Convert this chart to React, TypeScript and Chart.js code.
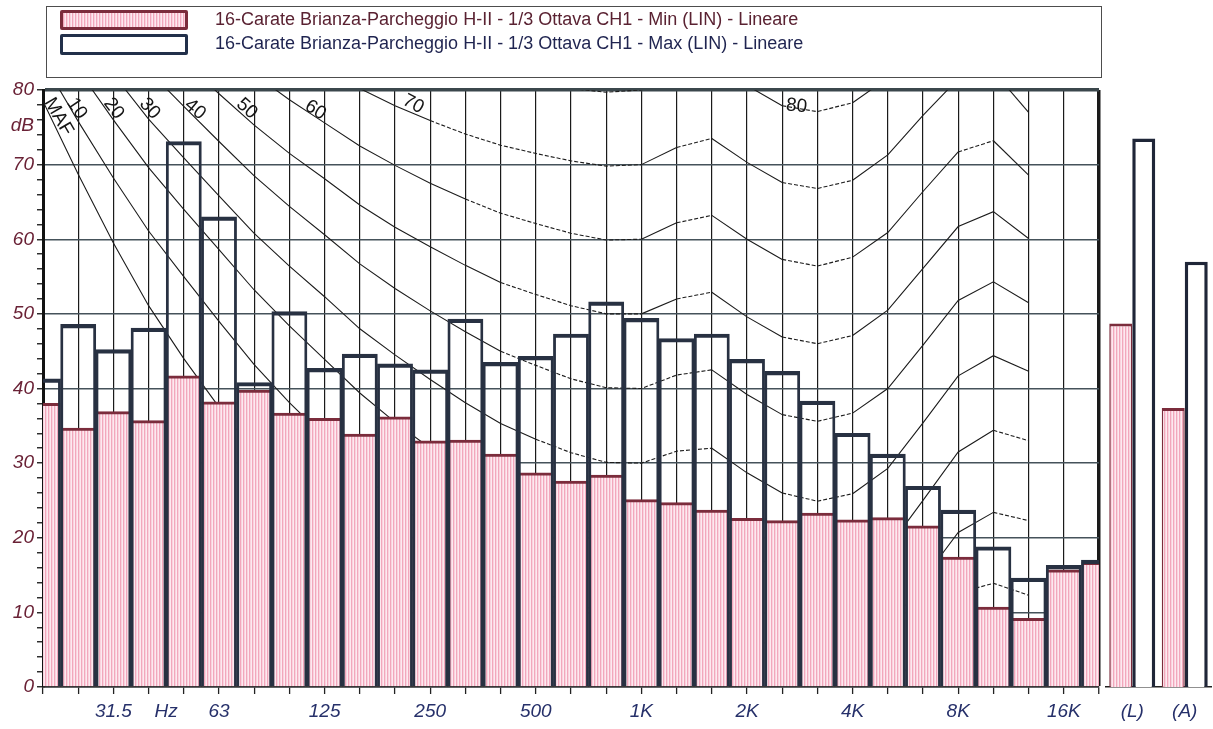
import React, { useEffect, useRef } from 'react';
import { Chart, registerables } from 'chart.js';

Chart.register(...registerables);

// ---- Data -------------------------------------------------------------
const bands = ['20', '25', '31.5', '40', '50', '63', '80', '100', '125', '160', '200', '250', '315', '400', '500', '630', '800', '1K', '1.25K', '1.6K', '2K', '2.5K', '3.15K', '4K', '5K', '6.3K', '8K', '10K', '12.5K', '16K', '20K'];
const bandTickLabels = ['', '', '31.5', '', '', '63', '', '', '125', '', '', '250', '', '', '500', '', '', '1K', '', '', '2K', '', '', '4K', '', '', '8K', '', '', '16K', ''];

const minLevels = [38.0, 34.7, 36.9, 35.7, 41.7, 38.2, 39.8, 36.7, 36.0, 33.9, 36.2, 33.0, 33.1, 31.2, 28.7, 27.6, 28.4, 25.1, 24.7, 23.7, 22.6, 22.3, 23.3, 22.4, 22.7, 21.6, 17.4, 10.7, 9.2, 15.7, 16.7];
const maxLevels = [41.3, 48.6, 45.2, 48.1, 73.1, 63.0, 40.8, 50.3, 42.7, 44.6, 43.3, 42.5, 49.3, 43.5, 44.3, 47.3, 51.6, 49.4, 46.7, 47.3, 43.9, 42.3, 38.3, 34.0, 31.2, 26.9, 23.7, 18.8, 14.6, 16.3, 17.0];

const summaryLabels = ['(L)', '(A)'];
const summaryMin = [48.7, 37.4];
const summaryMax = [73.5, 57.0];

// Equal-loudness contours (dB per band, none above 12.5K)
const mafLevels = [78.5, 68.7, 59.5, 51.1, 44.0, 37.5, 31.5, 26.5, 22.1, 17.9, 14.4, 11.4, 8.6, 6.2, 4.4, 3.0, 2.2, 2.4, 3.5, 1.7, -1.3, -4.2, -6.0, -5.4, -1.5, 6.0, 12.6, 13.9, 12.3, null, null];
const phon10Levels = [83.8, 75.8, 68.2, 61.1, 55.0, 49.0, 43.2, 38.1, 33.5, 28.8, 24.8, 21.3, 18.1, 15.1, 13.0, 11.2, 10.0, 10.0, 11.3, 10.4, 7.3, 4.5, 3.0, 3.8, 7.5, 14.4, 20.7, 23.4, 22.3, null, null];
const phon20Levels = [89.6, 82.7, 76.0, 69.6, 64.0, 58.6, 53.2, 48.4, 43.9, 39.4, 35.5, 32.0, 28.7, 25.7, 23.4, 21.5, 20.1, 20.0, 21.5, 21.4, 18.2, 15.4, 14.3, 15.1, 18.6, 25.0, 31.5, 34.4, 33.0, null, null];
const phon30Levels = [94.7, 88.3, 82.1, 76.1, 70.9, 65.8, 60.8, 56.4, 52.3, 48.0, 44.5, 41.2, 38.1, 35.3, 33.2, 31.4, 30.1, 30.0, 31.6, 32.0, 28.7, 26.0, 24.9, 25.9, 29.3, 35.4, 41.7, 44.4, 42.3, null, null];
const phon40Levels = [99.9, 93.9, 88.2, 82.6, 77.8, 73.1, 68.5, 64.4, 60.6, 56.7, 53.4, 50.4, 47.6, 45.0, 43.1, 41.3, 40.1, 40.0, 41.8, 42.5, 39.2, 36.5, 35.6, 36.7, 40.0, 45.8, 51.8, 54.3, 51.5, null, null];
const phon50Levels = [104.7, 99.1, 93.6, 88.4, 83.9, 79.5, 75.3, 71.5, 68.1, 64.6, 61.6, 59.0, 56.5, 54.2, 52.6, 51.1, 50.0, 50.0, 52.0, 52.9, 49.6, 46.9, 46.0, 47.1, 50.5, 56.1, 61.7, 63.7, 60.1, null, null];
const phon60Levels = [109.5, 104.2, 99.1, 94.2, 90.0, 85.9, 82.1, 78.7, 75.6, 72.5, 69.9, 67.5, 65.4, 63.5, 62.1, 60.8, 59.9, 60.0, 62.2, 63.2, 60.0, 57.3, 56.4, 57.6, 60.9, 66.4, 71.7, 73.2, 68.6, null, null];
const phon70Levels = [114.3, 109.2, 104.4, 99.8, 95.8, 92.2, 88.6, 85.6, 82.8, 80.2, 77.9, 75.9, 74.1, 72.6, 71.5, 70.5, 69.8, 70.0, 72.3, 73.5, 70.3, 67.6, 66.8, 67.9, 71.3, 76.6, 81.5, 82.5, 77.0, null, null];
const phon80Levels = [119.0, 114.2, 109.7, 105.3, 101.7, 98.4, 95.2, 92.5, 90.1, 87.8, 85.9, 84.3, 82.9, 81.7, 80.9, 80.2, 79.7, 80.0, 82.5, 83.7, 80.6, 77.9, 77.1, 78.3, 81.6, 86.8, 91.4, 91.7, 85.4, null, null];

const contourNames = ['MAF', '10', '20', '30', '40', '50', '60', '70', '80'];
const contourSeries = [mafLevels, phon10Levels, phon20Levels, phon30Levels, phon40Levels, phon50Levels, phon60Levels, phon70Levels, phon80Levels];

const legendMinText = '16-Carate Brianza-Parcheggio H-II - 1/3 Ottava CH1 - Min (LIN) - Lineare';
const legendMaxText = '16-Carate Brianza-Parcheggio H-II - 1/3 Ottava CH1 - Max (LIN) - Lineare';

// ---- Annotation placement (data units) -------------------------------
const contourLabelAnchors = [
  { band: 0.44, db: 76.4, angle: 60 },
  { band: 0.96, db: 77.5, angle: 56 },
  { band: 2.01, db: 77.5, angle: 53 },
  { band: 3.03, db: 77.5, angle: 48 },
  { band: 4.32, db: 77.4, angle: 40 },
  { band: 5.79, db: 77.5, angle: 42 },
  { band: 7.74, db: 77.3, angle: 33 },
  { band: 10.52, db: 78.1, angle: 28 },
  { band: 21.41, db: 77.85, angle: 6 },
];

// ---- Styles ----------------------------------------------------------
const FONT = '"Liberation Sans", Arial, Helvetica, sans-serif';
const PINK_TOP = '#7b2c3c';
const MAX_EDGE = '#283142';
const XLABEL = '#26306a';
const YLABEL = '#6a2236';

function makeStripePattern(): any {
  const c = document.createElement('canvas');
  c.width = 3;
  c.height = 4;
  const g = c.getContext('2d')!;
  g.fillStyle = '#fde9f0';
  g.fillRect(0, 0, 3, 4);
  g.fillStyle = '#f2a7bc';
  g.fillRect(0, 0, 1, 4);
  g.fillStyle = '#f9d3de';
  g.fillRect(1, 0, 1, 4);
  return g.createPattern(c, 'repeat');
}

export default function App() {
  const mainRef = useRef<HTMLCanvasElement>(null);
  const sideRef = useRef<HTMLCanvasElement>(null);

  useEffect(() => {
    const stripe = makeStripePattern();

    const contourSets = contourSeries.map((values, i) => ({
      type: 'line',
      label: contourNames[i],
      data: values,
      borderColor: '#1c1c1c',
      borderWidth: 1.1,
      pointRadius: 0,
      fill: false,
      tension: 0,
      order: 2 + i,
      segment: {
        borderDash: (ctx: any) =>
          Math.abs(ctx.p1.parsed.y - ctx.p0.parsed.y) < 2 ? [4, 2] : undefined,
      },
    }));

    const overlay = {
      id: 'overlay',
      afterDatasetsDraw(chart: any) {
        const { ctx, scales } = chart;
        const x = scales.x;
        const y = scales.y;
        ctx.save();
        ctx.font = `19px ${FONT}`;
        ctx.fillStyle = '#151515';
        ctx.textAlign = 'center';
        ctx.textBaseline = 'middle';
        contourLabelAnchors.forEach((a, i) => {
          const px = x.getPixelForValue(a.band);
          const py = y.getPixelForValue(a.db);
          ctx.save();
          ctx.translate(px, py);
          ctx.rotate((a.angle * Math.PI) / 180);
          ctx.fillText(contourNames[i], 0, 0);
          ctx.restore();
        });
        ctx.restore();
      },
      afterDraw(chart: any) {
        const { ctx, scales, chartArea } = chart;
        const x = scales.x;
        const y = scales.y;
        ctx.save();
        ctx.font = `italic 19px ${FONT}`;
        ctx.textBaseline = 'middle';
        ctx.fillStyle = YLABEL;
        ctx.textAlign = 'right';
        ctx.fillText('dB', chartArea.left - 9, y.getPixelForValue(75.2));
        ctx.fillStyle = XLABEL;
        ctx.textAlign = 'center';
        ctx.fillText('Hz', x.getPixelForValue(3.5), x.top + 7 + 6 + 11.4);
        ctx.restore();
      },
    };

    const tickFont = { family: FONT, size: 19, style: 'italic' as const };

    const main = new Chart(mainRef.current as HTMLCanvasElement, {
      type: 'bar',
      data: {
        labels: bands,
        datasets: [
          {
            type: 'bar',
            label: 'Max',
            data: maxLevels,
            backgroundColor: 'rgba(0,0,0,0)',
            borderColor: MAX_EDGE,
            borderWidth: { top: 3.5, left: 2.2, right: 2.2, bottom: 0 },
            grouped: false,
            barPercentage: 1,
            categoryPercentage: 1,
            order: 0,
          },
          {
            type: 'bar',
            label: 'Min',
            data: minLevels,
            backgroundColor: stripe,
            borderColor: PINK_TOP,
            borderWidth: { top: 3, left: 0, right: 0, bottom: 0 },
            grouped: false,
            barPercentage: 1,
            categoryPercentage: 1,
            order: 1,
          },
          ...contourSets,
        ] as any,
      },
      options: {
        responsive: false,
        animation: false,
        devicePixelRatio: 1,
        layout: { padding: { top: 90, left: 0, right: 0, bottom: 0 } },
        plugins: { legend: { display: false }, tooltip: { enabled: false } },
        scales: {
          x: {
            type: 'category',
            offset: false,
            grid: {
              offset: false,
              color: '#1a1a1a',
              lineWidth: (ctx: any) => (ctx.index === bands.length - 1 ? 3.5 : 1.2),
              tickLength: 7,
              tickColor: '#222',
              tickWidth: 1.3,
            },
            border: { display: true, color: '#222', width: 1.5 },
            ticks: {
              autoSkip: false,
              maxRotation: 0,
              minRotation: 0,
              padding: 6,
              color: XLABEL,
              font: tickFont,
              callback: (_v: any, i: number) => bandTickLabels[i],
            },
            afterFit: (s: any) => {
              s.height = 42;
            },
          },
          y: {
            min: 0,
            max: 80,
            ticks: {
              stepSize: 2,
              autoSkip: false,
              padding: 3,
              color: YLABEL,
              font: tickFont,
              callback: (v: any) => (v % 10 === 0 ? String(v) : ''),
            },
            grid: {
              color: (ctx: any) =>
                ctx.tick && ctx.tick.value === 80
                  ? '#3b474c'
                  : ctx.tick && ctx.tick.value % 10 === 0
                  ? '#45525a'
                  : 'rgba(0,0,0,0)',
              lineWidth: (ctx: any) => (ctx.tick && ctx.tick.value === 80 ? 3.5 : 1.5),
              tickLength: 6,
              tickColor: '#222',
              tickWidth: 1.4,
            },
            border: { display: true, color: '#111', width: 3 },
            afterFit: (s: any) => {
              s.width = 43;
            },
          },
        },
      } as any,
      plugins: [overlay],
    });

    const side = new Chart(sideRef.current as HTMLCanvasElement, {
      type: 'bar',
      data: {
        labels: summaryLabels,
        datasets: [
          {
            label: 'Min',
            data: summaryMin,
            backgroundColor: stripe,
            borderColor: PINK_TOP,
            borderWidth: { top: 3, left: 1.5, right: 1.5, bottom: 0 },
            barPercentage: 1,
            categoryPercentage: 0.876,
          },
          {
            label: 'Max',
            data: summaryMax,
            backgroundColor: '#ffffff',
            borderColor: '#1f2638',
            borderWidth: { top: 3.5, left: 3.5, right: 3.5, bottom: 0 },
            barPercentage: 1,
            categoryPercentage: 0.876,
          },
        ] as any,
      },
      options: {
        responsive: false,
        animation: false,
        devicePixelRatio: 1,
        layout: { padding: { top: 90, left: 5, right: 2, bottom: 0 } },
        plugins: { legend: { display: false }, tooltip: { enabled: false } },
        scales: {
          x: {
            grid: { display: false, drawTicks: false },
            border: { display: true, color: '#222', width: 1.5 },
            ticks: { padding: 13, color: XLABEL, font: tickFont, maxRotation: 0 },
            afterFit: (s: any) => {
              s.height = 42;
            },
          },
          y: { display: false, min: 0, max: 80 },
        },
      } as any,
    });

    return () => {
      main.destroy();
      side.destroy();
    };
  }, []);

  const swatchBase: React.CSSProperties = {
    position: 'absolute',
    left: 60,
    width: 128,
    boxSizing: 'border-box',
    borderRadius: 2,
  };
  const textBase: React.CSSProperties = {
    position: 'absolute',
    left: 215,
    fontFamily: FONT,
    fontSize: 18,
    lineHeight: '20px',
    whiteSpace: 'nowrap',
  };

  return (
    <div
      style={{
        position: 'fixed',
        left: 0,
        top: 0,
        width: 1213,
        height: 729,
        background: '#ffffff',
        overflow: 'hidden',
      }}
    >
      <canvas
        ref={mainRef}
        width={1105}
        height={729}
        style={{ position: 'absolute', left: 0, top: 0, width: 1105, height: 729 }}
      />
      <canvas
        ref={sideRef}
        width={112}
        height={729}
        style={{ position: 'absolute', left: 1101, top: 0, width: 112, height: 729 }}
      />
      <div
        style={{
          position: 'absolute',
          left: 46,
          top: 6,
          width: 1056,
          height: 72,
          border: '1.5px solid #4d4d4d',
          boxSizing: 'border-box',
        }}
      />
      <div
        style={{
          ...swatchBase,
          top: 10,
          height: 20,
          border: `3px solid ${PINK_TOP}`,
          background:
            'repeating-linear-gradient(90deg, #f2a7bc 0px, #f2a7bc 1px, #f9d3de 1px, #f9d3de 2px, #fde9f0 2px, #fde9f0 3px)',
        }}
      />
      <div
        style={{
          ...swatchBase,
          top: 34,
          height: 21,
          border: '3px solid #22304a',
          background: '#ffffff',
        }}
      />
      <div style={{ ...textBase, top: 9, color: '#5a2232' }}>{legendMinText}</div>
      <div style={{ ...textBase, top: 33, color: '#1f2450' }}>{legendMaxText}</div>
    </div>
  );
}
